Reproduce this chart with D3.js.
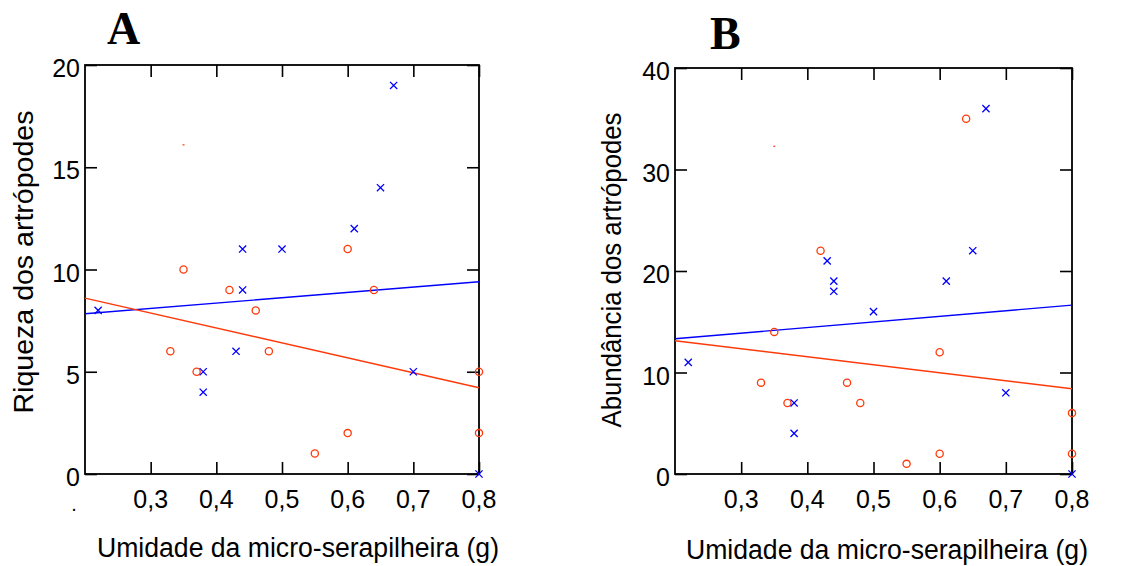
<!DOCTYPE html>
<html>
<head>
<meta charset="utf-8">
<script src="https://cdnjs.cloudflare.com/ajax/libs/d3/7.8.5/d3.min.js"></script>
<style>
  body { margin: 0; background: #fff; }
  svg text { font-family: "Liberation Sans", Arial, sans-serif; fill: #000; }
</style>
</head>
<body>
<svg id="chart" width="1131" height="566"></svg>
<script>
// moisture (g) for each sample, red series and blue series
var xRed  = [0.35, 0.42, 0.46, 0.64, 0.60, 0.33, 0.37, 0.48, 0.55, 0.60, 0.80, 0.80];
var xBlue = [0.22, 0.38, 0.38, 0.43, 0.44, 0.44, 0.50, 0.61, 0.65, 0.67, 0.70, 0.80];

// A - riqueza
var riquezaRed  = [10, 9, 8, 9, 11, 6, 5, 6, 1, 2, 5, 2];
var riquezaBlue = [8, 5, 4, 6, 9, 11, 11, 12, 14, 19, 5, 0];

// B - abundancia (same x order as above)
var abundRed  = [14, 22, 9, 35, 12, 9, 7, 7, 1, 2, 6, 2];
var abundBlue = [11, 7, 4, 21, 19, 18, 16, 19, 22, 36, 8, 0];

// stray red speck visible in both panels
var strayX = [0.35];
var strayA = [16.1];
var strayB = [32.3];

var xTicks = [0.3, 0.4, 0.5, 0.6, 0.7, 0.8];
var xTickLabels = ["0,3", "0,4", "0,5", "0,6", "0,7", "0,8"];
var yTicksA = [0, 5, 10, 15, 20];
var yTicksB = [0, 10, 20, 30, 40];

var RED = "#ff3a0a", BLUE = "#0000ff";

var svg = d3.select("#chart");

function fit(xs, ys) {
    var mx = d3.mean(xs), my = d3.mean(ys);
    var sxy = 0, sxx = 0;
    for (var i = 0; i < xs.length; i++) {
        sxy += (xs[i] - mx) * (ys[i] - my);
        sxx += (xs[i] - mx) * (xs[i] - mx);
    }
    var b = sxy / sxx;
    return function(x) { return my + b * (x - mx); };
}

function panel(opt) {
    var x = d3.scaleLinear().domain([0.2, 0.8]).range([opt.left, opt.right]);
    var y = d3.scaleLinear().domain([0, opt.yMax]).range([opt.bottom, opt.top]);
    var g = svg.append("g");

    // inward ticks on all four sides
    g.append("g").attr("transform", "translate(0," + opt.bottom + ")")
        .call(d3.axisBottom(x).tickValues(xTicks).tickSize(-12).tickFormat(""))
        .call(function(s) { s.select(".domain").remove(); });
    g.append("g").attr("transform", "translate(0," + opt.top + ")")
        .call(d3.axisTop(x).tickValues(xTicks).tickSize(-12).tickFormat(""))
        .call(function(s) { s.select(".domain").remove(); });
    g.append("g").attr("transform", "translate(" + opt.left + ",0)")
        .call(d3.axisLeft(y).tickValues(opt.yTicks).tickSize(-12).tickFormat(""))
        .call(function(s) { s.select(".domain").remove(); });
    g.append("g").attr("transform", "translate(" + opt.right + ",0)")
        .call(d3.axisRight(y).tickValues(opt.yTicks).tickSize(-12).tickFormat(""))
        .call(function(s) { s.select(".domain").remove(); });
    g.selectAll(".tick line").attr("stroke", "#000").attr("stroke-width", 1.6);

    g.append("rect")
        .attr("x", opt.left).attr("y", opt.top)
        .attr("width", opt.right - opt.left).attr("height", opt.bottom - opt.top)
        .attr("fill", "none").attr("stroke", "#000").attr("stroke-width", 1.8);

    // tick labels
    g.selectAll(".xl").data(xTicks).enter().append("text")
        .attr("x", function(d) { return x(d); })
        .attr("y", opt.bottom + 34)
        .attr("text-anchor", "middle")
        .attr("font-size", 25)
        .text(function(d, i) { return xTickLabels[i]; });
    g.selectAll(".yl").data(opt.yTicks).enter().append("text")
        .attr("x", opt.left - 5)
        .attr("y", function(d) { return y(d) + 12; })
        .attr("text-anchor", "end")
        .attr("font-size", 25)
        .text(function(d) { return d; });

    // titles
    g.append("text")
        .attr("x", opt.xTitleX).attr("y", opt.xTitleY)
        .attr("text-anchor", "middle")
        .attr("font-size", 27)
        .attr("textLength", 402).attr("lengthAdjust", "spacingAndGlyphs")
        .text("Umidade da micro-serapilheira (g)");
    g.append("text")
        .attr("transform", "translate(" + opt.yTitleX + "," + opt.yTitleY + ") rotate(-90)")
        .attr("text-anchor", "middle")
        .attr("font-size", 27)
        .attr("textLength", opt.yTitleLen).attr("lengthAdjust", "spacingAndGlyphs")
        .text(opt.yTitle);
    g.append("text")
        .attr("x", opt.letterX).attr("y", opt.letterY)
        .style("font-family", "'Liberation Serif', 'Times New Roman', serif")
        .style("font-weight", "bold")
        .attr("font-size", 46)
        .text(opt.letter);

    // regression lines
    var fr = fit(xRed, opt.red), fb = fit(xBlue, opt.blue);
    g.append("line")
        .attr("x1", x(0.2)).attr("y1", y(fb(0.2)))
        .attr("x2", x(0.8)).attr("y2", y(fb(0.8)))
        .attr("stroke", BLUE).attr("stroke-width", 1.4);
    g.append("line")
        .attr("x1", x(0.2)).attr("y1", y(fr(0.2)))
        .attr("x2", x(0.8)).attr("y2", y(fr(0.8)))
        .attr("stroke", RED).attr("stroke-width", 1.4);

    // red circles
    g.selectAll(".pr").data(opt.red).enter().append("circle")
        .attr("cx", function(d, i) { return x(xRed[i]); })
        .attr("cy", function(d) { return y(d); })
        .attr("r", 3.6)
        .attr("fill", "none").attr("stroke", RED).attr("stroke-width", 1.3);

    // blue crosses
    var s = 3.6;
    g.selectAll(".pb").data(opt.blue).enter().append("path")
        .attr("d", function(d, i) {
            var cx = x(xBlue[i]), cy = y(d);
            return "M" + (cx - s) + "," + (cy - s) + "L" + (cx + s) + "," + (cy + s) +
                   "M" + (cx - s) + "," + (cy + s) + "L" + (cx + s) + "," + (cy - s);
        })
        .attr("stroke", BLUE).attr("stroke-width", 1.3);

    g.selectAll(".st").data(opt.stray).enter().append("rect")
        .attr("x", function(d, i) { return x(strayX[i]) - 1; })
        .attr("y", function(d) { return y(d) - 0.5; })
        .attr("width", 2).attr("height", 1.2)
        .attr("fill", RED);

    return g;
}

var gA = panel({
    left: 85, right: 479, top: 65, bottom: 474, yMax: 20, yTicks: yTicksA,
    red: riquezaRed, blue: riquezaBlue, stray: strayA,
    xTitleX: 298, xTitleY: 557, yTitle: "Riqueza dos artrópodes", yTitleX: 33, yTitleY: 262, yTitleLen: 303,
    letter: "A", letterX: 107, letterY: 44
});
// the lone "." left of 0,3 on panel A
gA.append("text").attr("x", 74).attr("y", 511).attr("text-anchor", "middle")
    .attr("font-size", 20).text(".");

panel({
    left: 675, right: 1072, top: 68, bottom: 474, yMax: 40, yTicks: yTicksB,
    red: abundRed, blue: abundBlue, stray: strayB,
    xTitleX: 887, xTitleY: 559, yTitle: "Abundância dos artrópodes", yTitleX: 621, yTitleY: 270, yTitleLen: 315,
    letter: "B", letterX: 710, letterY: 49
});
</script>
</body>
</html>
